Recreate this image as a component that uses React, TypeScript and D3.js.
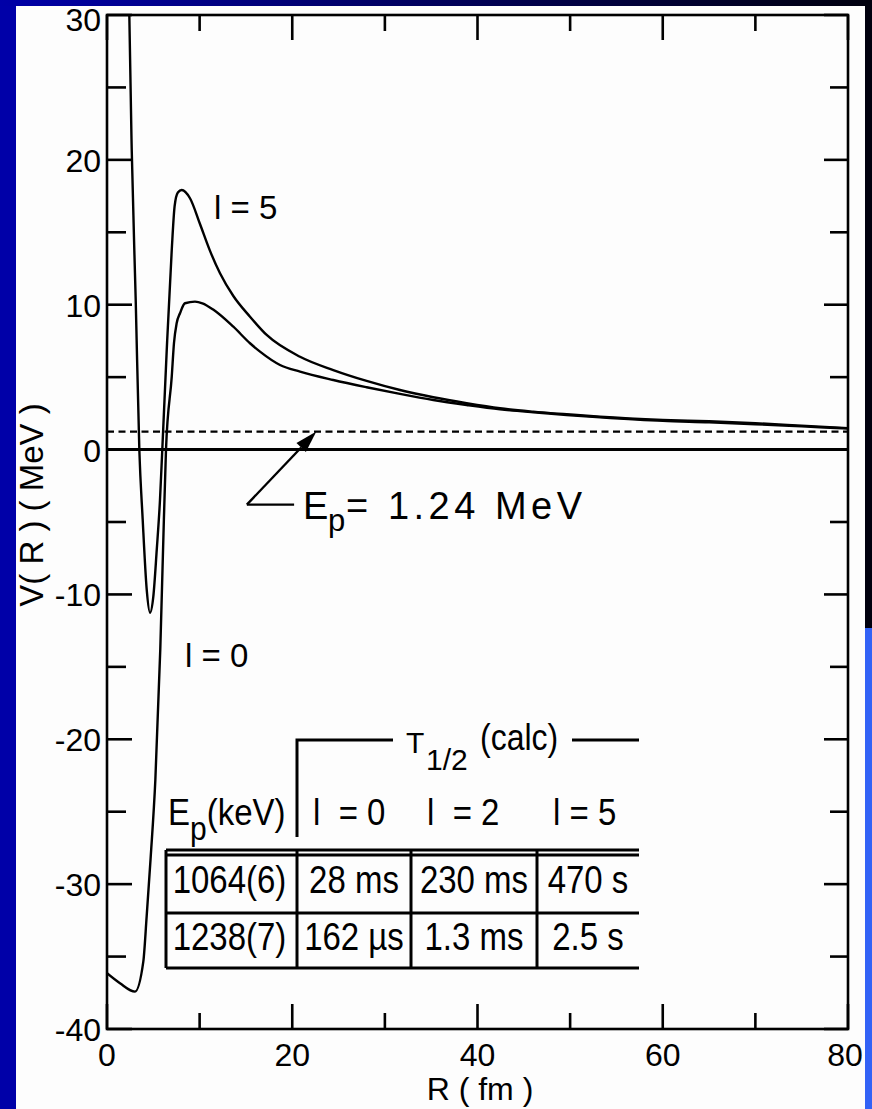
import * as d3 from "d3";

// axis ticks
const xMajor = [0, 20, 40, 60, 80];
const xMinor = [10, 30, 50, 70];
const yMajor = [30, 20, 10, 0, -10, -20, -30, -40];
const yMinor = [25, 15, 5, -5, -15, -25, -35];

// l = 0 potential
const rL0 = [0, 1.4, 3.02, 3.92, 4.28, 4.71, 5.22, 5.75, 6.05, 6.37, 6.99, 7.23, 7.52, 7.88, 8.42, 9.5, 10.3, 11.5, 13.64, 15.44, 16.52, 18.68, 20.84, 24.43, 28.03, 31.63, 35.23, 38.83, 42.43, 46.03, 49.63, 53.23, 60, 65, 70, 75, 80];
const vL0 = [-36.15, -36.84, -37.42, -35.35, -32.24, -28.2, -22.8, -13.83, -6.93, 0, 5.03, 7.34, 8.72, 9.41, 10.1, 10.21, 10.1, 9.65, 8.48, 7.34, 6.76, 5.84, 5.38, 4.8, 4.3, 3.84, 3.42, 3.08, 2.78, 2.57, 2.39, 2.23, 1.98, 1.88, 1.75, 1.6, 1.45];

// l = 5 potential
const rL5 = [2.35, 2.41, 2.67, 3.1, 3.49, 3.85, 4.29, 4.64, 5.0, 5.37, 5.72, 5.97, 6.45, 6.99, 7.3, 7.65, 8.07, 8.96, 10.04, 11.1, 12.2, 13.64, 15.44, 17.24, 20.84, 24.43, 28.03, 31.63, 35.23, 38.83, 42.43, 46.03, 49.63, 53.23, 60, 65, 70, 75, 80];
const vL5 = [33, 30, 20.68, 10.33, 0, -4.79, -9.69, -11.26, -10.15, -6.93, -3.48, 0, 6.88, 13.78, 16.8, 17.75, 17.92, 17.35, 15.57, 13.75, 12.17, 10.6, 9.17, 7.91, 6.41, 5.49, 4.74, 4.11, 3.61, 3.2, 2.85, 2.62, 2.44, 2.27, 2.05, 1.95, 1.82, 1.65, 1.48];

const epLevel = 1.24;
const arrowTail = [15.1, -3.8];
const arrowTip = [22.6, 1.24];
const arrowFoot = 20.2;

// half-life table
const colHeads = ["l  = 0", "l  = 2", "l = 5"];
const epKeV = ["1064(6)", "1238(7)"];
const tL0 = ["28 ms", "162 \u00b5s"];
const tL2 = ["230 ms", "1.3 ms"];
const tL5 = ["470 s", "2.5 s"];

const W = 872;
const H = 1109;
const font = "'Liberation Sans', Arial, Helvetica, sans-serif";

export default function App() {
  const x = d3.scaleLinear().domain([0, 80]).range([107, 848]);
  const y = d3.scaleLinear().domain([-40, 30]).range([1029, 15]);
  const [x0, x1] = x.range();
  const [y0, y1] = y.range();

  const path = (rs: number[], vs: number[]) =>
    d3
      .line<number>()
      .x((r) => x(r))
      .y((_, i) => y(vs[i]))
      .curve(d3.curveMonotoneX)(rs);

  // arrow head
  const tx = x(arrowTip[0]);
  const ty = y(arrowTip[1]);
  const sx = x(arrowTail[0]);
  const sy = y(arrowTail[1]);
  const ang = Math.atan2(ty - sy, tx - sx);
  const hl = 22;
  const hw = 6.5;
  const bx = tx - hl * Math.cos(ang);
  const by = ty - hl * Math.sin(ang);
  const head = [
    [tx, ty],
    [bx + hw * Math.sin(ang), by - hw * Math.cos(ang)],
    [bx - hw * Math.sin(ang), by + hw * Math.cos(ang)],
  ]
    .map((p) => p.join(","))
    .join(" ");

  const cols = [166, 297, 411, 537, 639];
  const rowTop = 850;
  const rowMid = 913;
  const rowBot = 968;
  const baselines = [893, 950];
  const cellText = (t: string, cx: number, by: number, key: string) => (
    <g key={key} transform={`translate(${cx},${by}) scale(1,1.2)`}>
      <text textAnchor="middle" fontSize={33}>
        {t}
      </text>
    </g>
  );

  const labX = x(arrowFoot) + 9;

  return (
    <svg
      width={W}
      height={H}
      style={{ position: "absolute", left: 0, top: 0, display: "block" }}
      fontFamily={font}
    >
      <defs>
        <linearGradient id="topband" x1="0" x2="1" y1="0" y2="0">
          <stop offset="0" stopColor="#0000a8" />
          <stop offset="1" stopColor="#00000e" />
        </linearGradient>
        <clipPath id="plot">
          <rect x={x0} y={y1} width={x1 - x0} height={y0 - y1} />
        </clipPath>
      </defs>
      <rect x={0} y={0} width={W} height={H} fill="#fdfdfd" />
      <rect x={0} y={0} width={16} height={H} fill="#0000a8" />
      <rect x={0} y={0} width={W} height={6} fill="url(#topband)" />
      <rect x={865} y={0} width={7} height={628} fill="#00000e" />
      <rect x={865} y={628} width={7} height={H - 628} fill="#3262f6" />

      {/* curves */}
      <g clipPath="url(#plot)" fill="none" stroke="#000" strokeWidth={2.4}>
        <path d={path(rL0, vL0) || ""} />
        <path d={path(rL5, vL5) || ""} />
      </g>
      <line x1={x0} x2={x1} y1={y(0)} y2={y(0)} stroke="#000" strokeWidth={3} />
      <line
        x1={x0}
        x2={x1}
        y1={y(epLevel)}
        y2={y(epLevel)}
        stroke="#000"
        strokeWidth={2.4}
        strokeDasharray="7,4.5"
      />

      {/* frame and ticks */}
      <rect
        x={x0}
        y={y1}
        width={x1 - x0}
        height={y0 - y1}
        fill="none"
        stroke="#000"
        strokeWidth={2.6}
      />
      <g stroke="#000" strokeWidth={2.6}>
        {xMajor.map((t) => (
          <g key={"xM" + t}>
            <line x1={x(t)} x2={x(t)} y1={y0} y2={y0 - 25} />
            <line x1={x(t)} x2={x(t)} y1={y1} y2={y1 + 25} />
          </g>
        ))}
        {xMinor.map((t) => (
          <g key={"xm" + t}>
            <line x1={x(t)} x2={x(t)} y1={y0} y2={y0 - 16} />
            <line x1={x(t)} x2={x(t)} y1={y1} y2={y1 + 16} />
          </g>
        ))}
        {yMajor.map((t) => (
          <g key={"yM" + t}>
            <line x1={x0} x2={x0 + 25} y1={y(t)} y2={y(t)} />
            <line x1={x1} x2={x1 - 24} y1={y(t)} y2={y(t)} />
          </g>
        ))}
        {yMinor.map((t) => (
          <g key={"ym" + t}>
            <line x1={x0} x2={x0 + 19} y1={y(t)} y2={y(t)} />
            <line x1={x1} x2={x1 - 18} y1={y(t)} y2={y(t)} />
          </g>
        ))}
      </g>
      <g fontSize={32} fill="#000">
        {xMajor.map((t) => (
          <text key={"xl" + t} x={x(t) - (t === 80 ? 3 : 0)} y={1066} textAnchor="middle">
            {t}
          </text>
        ))}
        {yMajor.map((t) => (
          <text key={"yl" + t} x={101} y={Math.max(y(t) + 12, 31)} textAnchor="end">
            {t}
          </text>
        ))}
      </g>
      <text x={480} y={1100} textAnchor="middle" fontSize={32}>
        R ( fm )
      </text>
      <text
        transform={`translate(43,${(y0 + y1) / 2 - 17}) rotate(-90)`}
        textAnchor="middle"
        fontSize={33}
        style={{ whiteSpace: "pre" }}
      >
        V( R ) ( MeV )
      </text>

      {/* curve labels */}
      <text x={214} y={219} fontSize={33}>
        l = 5
      </text>
      <text x={185} y={667} fontSize={33}>
        l = 0
      </text>

      {/* E_p arrow */}
      <g stroke="#000" strokeWidth={2.4} fill="none">
        <line x1={x(arrowFoot)} y1={sy} x2={sx} y2={sy} />
        <line x1={sx} y1={sy} x2={bx} y2={by} />
      </g>
      <polygon points={head} fill="#000" />
      <text x={labX} y={sy + 14} fontSize={38}>
        E
      </text>
      <text x={labX + 25} y={sy + 26} fontSize={31}>
        p
      </text>
      <text
        x={labX + 43}
        y={sy + 14}
        fontSize={38}
        textLength={236}
        lengthAdjust="spacing"
      >
        = 1.24 MeV
      </text>

      {/* table */}
      <g stroke="#000" strokeWidth={3} fill="none">
        <polyline points={`${cols[1]},837 ${cols[1]},740 393,740`} />
        <line x1={572} x2={cols[4]} y1={740} y2={740} />
        <line x1={cols[0]} x2={cols[4]} y1={rowTop} y2={rowTop} />
        <line x1={cols[0]} x2={cols[4]} y1={rowTop + 5} y2={rowTop + 5} />
        <line x1={cols[0]} x2={cols[4]} y1={rowMid} y2={rowMid} />
        <line x1={cols[0]} x2={cols[4]} y1={rowBot} y2={rowBot} />
        {cols.slice(0, 4).map((c) => (
          <line key={"c" + c} x1={c} x2={c} y1={rowTop} y2={rowBot} />
        ))}
      </g>
      <text x={406} y={753} fontSize={30}>
        T
      </text>
      <text x={426} y={770} fontSize={30}>
        1/2
      </text>
      <g transform="translate(480,750) scale(1,1.15)">
        <text fontSize={32}>(calc)</text>
      </g>
      <g transform="translate(168,825) scale(1,1.1)">
        <text fontSize={33}>
          E
          <tspan fontSize={30} dy={14}>
            p
          </tspan>
          <tspan dy={-14}>(keV)</tspan>
        </text>
      </g>
      {colHeads.map((h, i) => (
        <g key={"h" + i} transform={`translate(${[313, 427, 553][i]},825) scale(1,1.1)`}>
          <text fontSize={33} style={{ whiteSpace: "pre" }}>
            {h}
          </text>
        </g>
      ))}
      {baselines.map((b, r) => (
        <g key={"row" + r}>
          {cellText(epKeV[r], (cols[0] + cols[1]) / 2 - 2, b, "a" + r)}
          {cellText(tL0[r], (cols[1] + cols[2]) / 2, b, "b" + r)}
          {cellText(tL2[r], (cols[2] + cols[3]) / 2, b, "c" + r)}
          {cellText(tL5[r], (cols[3] + cols[4]) / 2, b, "d" + r)}
        </g>
      ))}
    </svg>
  );
}
